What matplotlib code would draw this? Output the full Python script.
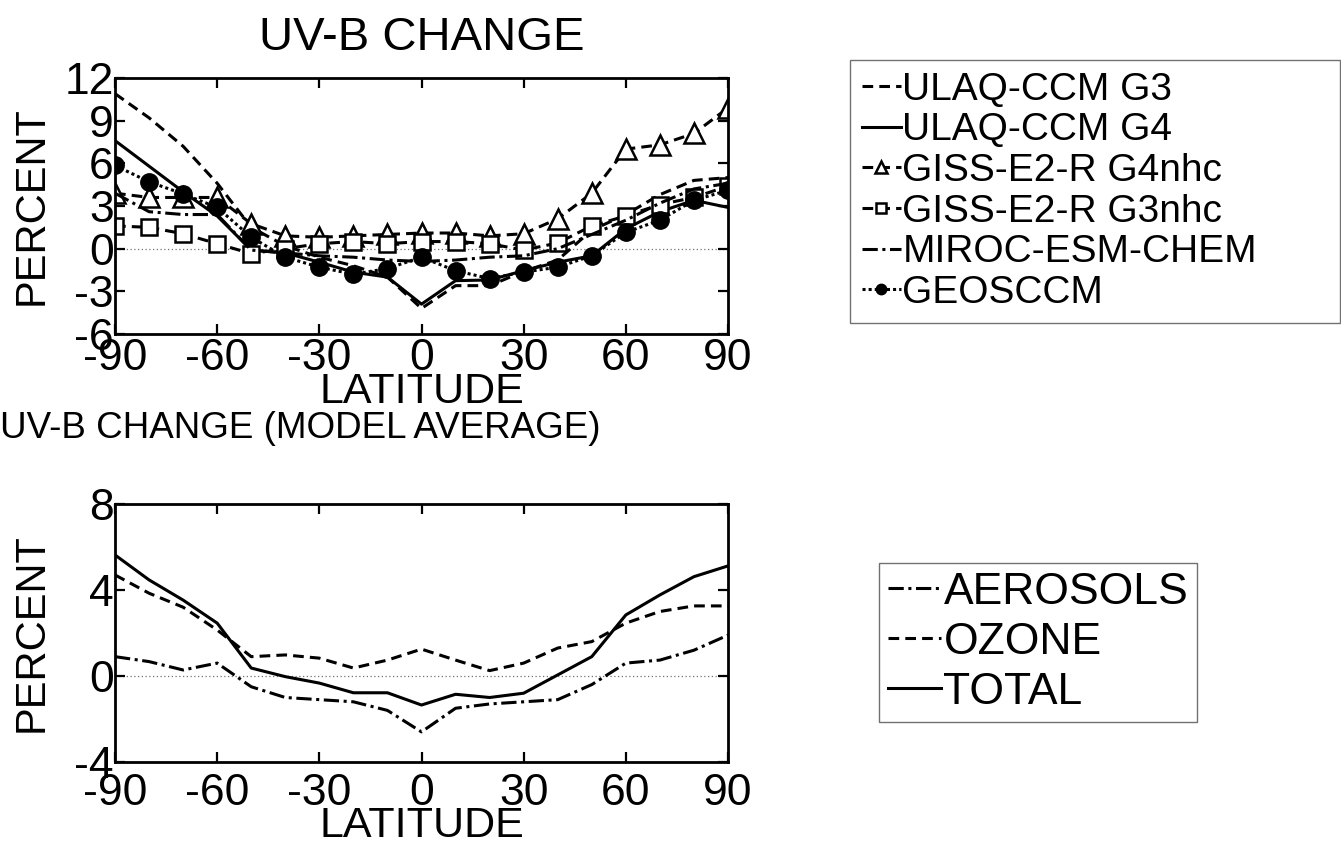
import matplotlib
matplotlib.use("Agg")
import matplotlib.pyplot as plt

# --- data ------------------------------------------------------------------
lat = [-90, -80, -70, -60, -50, -40, -30, -20, -10, 0, 10, 20, 30, 40, 50, 60, 70, 80, 90]

ulaq_g3 = [10.9, 9.2, 7.2, 4.6, 1.5, 0.2, -0.6, -1.2, -2.0, -4.2, -2.6, -2.6, -1.6, -0.8, 1.3, 2.4, 3.8, 4.8, 5.0]
ulaq_g4 = [7.6, 5.8, 4.0, 2.3, -0.1, -0.3, -0.95, -1.65, -2.0, -3.9, -2.25, -2.2, -1.55, -0.95, -0.5, 1.4, 2.6, 3.4, 2.9]
giss_g4nhc = [3.9, 3.6, 3.6, 3.6, 1.75, 0.9, 0.8, 0.9, 1.0, 1.1, 1.1, 0.9, 1.05, 2.1, 3.9, 7.0, 7.3, 8.1, 9.9]
giss_g3nhc = [1.6, 1.5, 1.05, 0.35, -0.35, 0.0, 0.35, 0.5, 0.35, 0.5, 0.5, 0.35, -0.1, 0.4, 1.6, 2.3, 3.1, 3.6, 4.4]
miroc = [3.9, 2.6, 2.4, 2.4, -0.1, -0.3, -0.5, -0.6, -0.8, -0.9, -0.8, -0.6, -0.5, 0.0, 1.0, 2.0, 3.2, 4.2, 4.6]
geosccm = [5.85, 4.7, 3.85, 2.9, 0.8, -0.6, -1.3, -1.8, -1.4, -0.6, -1.55, -2.1, -1.65, -1.3, -0.5, 1.15, 2.0, 3.4, 4.1]

aerosols = [0.9, 0.67, 0.28, 0.6, -0.5, -1.0, -1.1, -1.2, -1.6, -2.6, -1.5, -1.3, -1.2, -1.1, -0.4, 0.6, 0.74, 1.2, 1.9]
ozone = [4.7, 3.85, 3.2, 2.14, 0.9, 0.98, 0.83, 0.37, 0.74, 1.25, 0.74, 0.25, 0.6, 1.3, 1.6, 2.46, 3.0, 3.26, 3.26]
total = [5.63, 4.47, 3.53, 2.46, 0.37, -0.03, -0.33, -0.78, -0.78, -1.35, -0.85, -1.0, -0.8, 0.05, 0.9, 2.84, 3.77, 4.62, 5.12]

xticks = [-90, -60, -30, 0, 30, 60, 90]
yticks_top = [-6, -3, 0, 3, 6, 9, 12]
yticks_bot = [-4, 0, 4, 8]

# --- style -----------------------------------------------------------------
plt.rcParams['font.family'] = ['Liberation Sans', 'DejaVu Sans']
plt.rcParams['axes.unicode_minus'] = False

fig = plt.figure(figsize=(13.41, 8.5), dpi=100)
W, H = 1341, 850


def box(l, t, r, b):
    return [l / W, 1 - b / H, (r - l) / W, (b - t) / H]


def style_axes(ax, yticks, xpad, xlabelpad):
    ax.set_xlim(-90, 90)
    ax.set_ylim(yticks[0], yticks[-1])
    ax.set_xticks(xticks)
    ax.set_yticks(yticks)
    ax.axhline(0, color="0.45", lw=0.9, ls=(0, (1, 2)), zorder=0)
    ax.tick_params(direction="in", length=7, width=1.6, top=True, right=True,
                   labelsize=32, pad=1)
    ax.tick_params(axis="x", pad=xpad)
    for s in ax.spines.values():
        s.set_linewidth(2)
    ax.set_xlabel("LATITUDE", fontsize=31, labelpad=xlabelpad)
    ax.set_ylabel("PERCENT", fontsize=30)
    ax.yaxis.set_label_coords(-0.104, 0.5)


lw = 2.2
k = "black"
dash = (0, (3.5, 2))
dashdot = (0, (5, 1.5, 1, 1.5))

# top panel
ax1 = fig.add_axes(box(115, 78, 728, 334))
ax1.plot(lat, ulaq_g3, color=k, lw=lw, ls=dash, label="ULAQ-CCM G3")
ax1.plot(lat, ulaq_g4, color=k, lw=lw, ls="-", label="ULAQ-CCM G4")
ax1.plot(lat, giss_g4nhc, color=k, lw=lw, ls=dash, marker="^", ms=14,
         mfc="white", mec=k, mew=1.8, label="GISS-E2-R G4nhc")
ax1.plot(lat, giss_g3nhc, color=k, lw=lw, ls=dash, marker="s", ms=11,
         mfc="white", mec=k, mew=1.8, label="GISS-E2-R G3nhc")
ax1.plot(lat, miroc, color=k, lw=lw, ls=dashdot, label="MIROC-ESM-CHEM")
ax1.plot(lat, geosccm, color=k, lw=lw, ls=(0, (1, 1)), marker="o", ms=12.5,
         mfc=k, mec=k, label="GEOSCCM")
style_axes(ax1, yticks_top, 3, -5)
ax1.set_title("UV-B CHANGE", fontsize=34, pad=20)

fig.legend(*ax1.get_legend_handles_labels(), loc="upper left", mode="expand",
           bbox_to_anchor=(850 / W, 1 - 320 / H, 490 / W, 260 / H), fontsize=28,
           frameon=True, fancybox=False, edgecolor="0.3", handlelength=1.0,
           handletextpad=0.05, labelspacing=0.12, borderpad=0.3, borderaxespad=0,
           markerscale=0.6)

# bottom panel
ax2 = fig.add_axes(box(115, 504, 728, 762))
ax2.plot(lat, aerosols, color=k, lw=lw, ls=dashdot, label="AEROSOLS")
ax2.plot(lat, ozone, color=k, lw=lw, ls=dash, label="OZONE")
ax2.plot(lat, total, color=k, lw=lw, ls="-", label="TOTAL")
style_axes(ax2, yticks_bot, 8, -6)
fig.text(0.0, 1 - 428 / H, "UV-B CHANGE (MODEL AVERAGE)", fontsize=26.5,
         ha="left", va="center")

fig.legend(*ax2.get_legend_handles_labels(), loc="upper left",
           bbox_to_anchor=(879 / W, 1 - 563 / H), fontsize=32, frameon=True,
           fancybox=False, edgecolor="0.3", handlelength=1.2, handletextpad=0.05,
           labelspacing=0.2, borderpad=0.2, borderaxespad=0)

fig.savefig("out.png", dpi=100, facecolor="white")
